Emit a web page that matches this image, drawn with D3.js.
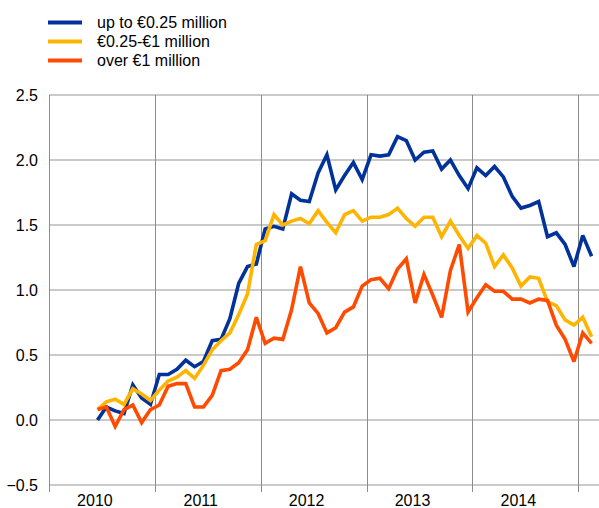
<!DOCTYPE html>
<html>
<head>
<meta charset="utf-8">
<script src="https://cdn.jsdelivr.net/npm/d3@7"></script>
<style>
  html, body { margin: 0; padding: 0; background: #fff; }
  svg { display: block; font-family: "Liberation Sans", Arial, sans-serif; }
</style>
</head>
<body>
<svg id="chart" width="599" height="508"></svg>
<script>
// ---- data ----
const firstMonth = "2010-06";   // first observation (monthly), last is 2015-02
const seriesNames = ["up to €0.25 million", "€0.25-€1 million", "over €1 million"];
const seriesColors = ["#003299", "#ffb400", "#ff4b00"];
const upTo025 = [0.00, 0.10, 0.07, 0.05, 0.27, 0.17, 0.12,
  0.35, 0.35, 0.39, 0.46, 0.41, 0.45, 0.61, 0.62, 0.78, 1.05, 1.18, 1.20,
  1.47, 1.49, 1.47, 1.74, 1.69, 1.68, 1.90, 2.04, 1.77, 1.88, 1.98, 1.85,
  2.04, 2.03, 2.04, 2.18, 2.15, 2.00, 2.06, 2.07, 1.93, 2.00, 1.88, 1.78,
  1.94, 1.88, 1.95, 1.87, 1.72, 1.63, 1.65, 1.68, 1.41, 1.44, 1.35, 1.18,
  1.42, 1.26];
const from025to1 = [0.08, 0.14, 0.16, 0.12, 0.24, 0.20, 0.15,
  0.23, 0.30, 0.33, 0.38, 0.32, 0.42, 0.54, 0.61, 0.67, 0.81, 0.97, 1.35,
  1.38, 1.58, 1.50, 1.53, 1.55, 1.51, 1.61, 1.52, 1.44, 1.58, 1.61, 1.53,
  1.56, 1.56, 1.58, 1.63, 1.55, 1.49, 1.56, 1.56, 1.41, 1.53, 1.42, 1.32,
  1.42, 1.36, 1.18, 1.27, 1.17, 1.03, 1.10, 1.09, 0.91, 0.88, 0.77, 0.73,
  0.79, 0.64];
const over1 = [0.08, 0.10, -0.05, 0.08, 0.115, -0.02, 0.08,
  0.115, 0.26, 0.28, 0.28, 0.10, 0.10, 0.19, 0.38, 0.39, 0.44, 0.54, 0.79,
  0.59, 0.63, 0.62, 0.85, 1.18, 0.90, 0.82, 0.67, 0.71, 0.83, 0.87, 1.03,
  1.08, 1.09, 1.01, 1.16, 1.24, 0.90, 1.12, 0.96, 0.79, 1.15, 1.35, 0.83,
  0.94, 1.04, 0.99, 0.99, 0.93, 0.93, 0.90, 0.93, 0.92, 0.73, 0.62, 0.45,
  0.67, 0.59];
const yTicks = [-0.5, 0.0, 0.5, 1.0, 1.5, 2.0, 2.5];
const yearBounds = [2010, 2011, 2012, 2013, 2014, 2015];
const yearLabels = ["2010", "2011", "2012", "2013", "2014"];

// ---- layout ----
const svg = d3.select("#chart");
const plotL = 49, plotR = 596, plotT = 95, plotB = 485;
const baseYear = 2010;
const fontSize = 16;
const startIdx = (+firstMonth.slice(0, 4) - baseYear) * 12 + (+firstMonth.slice(5, 7) - 1);

const x = d3.scaleLinear().domain([0, 62]).range([plotL, plotR]);
const y = d3.scaleLinear().domain([-0.5, 2.5]).range([plotB, plotT]);

// horizontal gridlines
svg.append("g").selectAll("line").data(yTicks).join("line")
  .attr("x1", plotL).attr("x2", 599)
  .attr("y1", d => y(d)).attr("y2", d => y(d))
  .attr("stroke", "#b8b8b8").attr("stroke-width", 1.6);

// vertical year lines (extend below as tick marks)
svg.append("g").selectAll("line").data(yearBounds).join("line")
  .attr("x1", d => Math.round(x((d - baseYear) * 12)) + 0.5)
  .attr("x2", d => Math.round(x((d - baseYear) * 12)) + 0.5)
  .attr("y1", plotT).attr("y2", 492)
  .attr("stroke", "#8c8c8c").attr("stroke-width", 1);

// y axis labels
const yAxis = d3.axisLeft(y).tickValues(yTicks).tickFormat(d3.format(".1f")).tickSize(0).tickPadding(0);
const gy = svg.append("g").attr("transform", `translate(38,0)`).call(yAxis);
gy.select(".domain").remove();
gy.selectAll("text").attr("font-size", fontSize).attr("fill", "#000")
  .attr("font-family", "Liberation Sans, Arial, sans-serif");

// x labels
svg.append("g").selectAll("text").data(yearLabels).join("text")
  .attr("x", d => x((+d - baseYear) * 12 + 5.2))
  .attr("y", 505.5)
  .attr("text-anchor", "middle")
  .attr("font-size", fontSize).attr("fill", "#000")
  .text(d => d);

// lines
const allSeries = [upTo025, from025to1, over1];
const line = d3.line()
  .x((d, i) => x(startIdx + i + 0.5))
  .y(d => y(d));
svg.append("g").selectAll("path").data(allSeries).join("path")
  .attr("d", d => line(d))
  .attr("fill", "none")
  .attr("stroke", (d, i) => seriesColors[i])
  .attr("stroke-width", 3.6)
  .attr("stroke-linejoin", "miter")
  .attr("stroke-miterlimit", 3);

// legend
const lg = svg.append("g");
seriesNames.forEach((name, i) => {
  const ly = 22.5 + i * 19;
  lg.append("line").attr("x1", 48).attr("x2", 82).attr("y1", ly).attr("y2", ly)
    .attr("stroke", seriesColors[i]).attr("stroke-width", 4);
  lg.append("text").attr("x", 97).attr("y", ly + 5.5).attr("font-size", fontSize)
    .attr("fill", "#000").text(name);
});
</script>
</body>
</html>
